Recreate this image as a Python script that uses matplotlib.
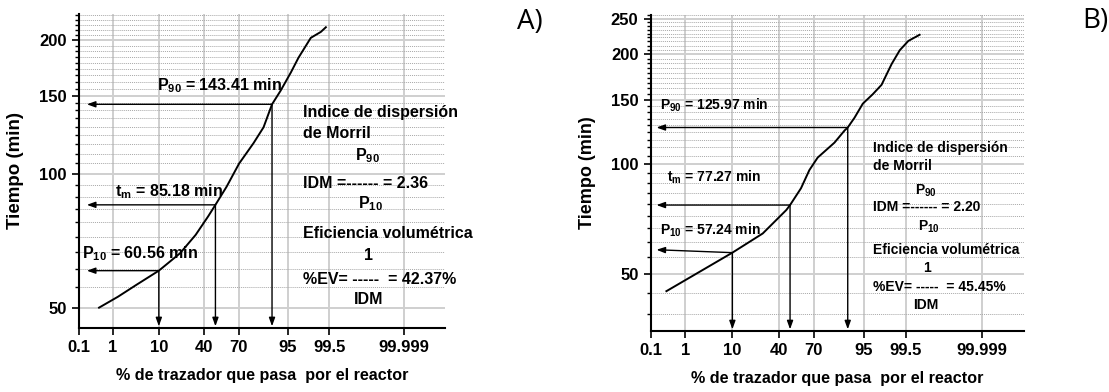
import math
import numpy as np
import matplotlib
matplotlib.use("Agg")
import matplotlib.pyplot as plt
from matplotlib.ticker import NullLocator, NullFormatter, FixedLocator

plt.rcParams['font.family'] = ['Liberation Sans', 'DejaVu Sans']
plt.rcParams['font.weight'] = 'bold'
plt.rcParams['mathtext.fontset'] = 'custom'
plt.rcParams['mathtext.rm'] = 'Liberation Sans:bold'
plt.rcParams['mathtext.it'] = 'Liberation Sans:bold'
plt.rcParams['mathtext.bf'] = 'Liberation Sans:bold'

# curva acumulada A: % de trazador vs tiempo (min)
pct_a = [0.42, 1.36, 3.7, 10, 21.2, 32.7, 43.4, 50, 60, 70.4, 80.6, 86.2,
         90, 93.0, 95.6, 97.0, 98.46, 99.15, 99.38]
t_a = [50.0, 52.9, 56.3, 60.56, 66.3, 72.9, 80.2, 85.18, 93.6, 105.5, 117.3, 127.3,
       143.41, 153.9, 169.0, 182.6, 202.4, 208.7, 213.8]

# curva acumulada B
pct_b = [0.30, 10, 27.2, 46.7, 50, 59.6, 66.6, 73, 83.8, 88.7, 90, 92.4,
         94.7, 96.7, 97.9, 98.8, 99.26, 99.57, 99.80]
t_b = [44.9, 57.24, 64.6, 74.9, 77.27, 85.9, 96.3, 104.2, 114.5, 123.6, 125.97, 134.0,
       146.4, 155.4, 164.9, 188.0, 205.0, 217.4, 226.0]

# percentiles P10, tm, P90
p10_a, tm_a, p90_a = 60.56, 85.18, 143.41
p10_b, tm_b, p90_b = 57.24, 77.27, 125.97
idm_a, ev_a = 2.36, 42.37
idm_b, ev_b = 2.20, 45.45

xticks = [0.1, 1, 10, 40, 70, 95, 99.5, 99.999]
xticklabels = ['0.1', '1', '10', '40', '70', '95', '99.5', '99.999']
yticks_a = [50, 100, 150, 200]
yticks_b = [50, 100, 150, 200, 250]


# escala de probabilidad normal (Acklam)
A_ = [-3.969683028665376e+01, 2.209460984245205e+02, -2.759285104469687e+02,
      1.383577518672690e+02, -3.066479806614716e+01, 2.506628277459239e+00]
B_ = [-5.447609879822406e+01, 1.615858368580409e+02, -1.556989798598866e+02,
      6.680131188771972e+01, -1.328068155288572e+01]
C_ = [-7.784894002430293e-03, -3.223964580411365e-01, -2.400758277161838e+00,
      -2.549732539343734e+00, 4.374664141464968e+00, 2.938163982698783e+00]
D_ = [7.784695709041462e-03, 3.224671290700398e-01, 2.445134137142996e+00,
      3.754408661907416e+00]


def _tail(q):
    num = ((((C_[0]*q + C_[1])*q + C_[2])*q + C_[3])*q + C_[4])*q + C_[5]
    den = (((D_[0]*q + D_[1])*q + D_[2])*q + D_[3])*q + 1
    return num / den


def prob_fwd(pct):
    p = np.clip(np.asarray(pct, dtype=float) / 100.0, 1e-12, 1 - 1e-12)
    z = np.empty_like(p)
    lo = p < 0.02425
    hi = p > 1 - 0.02425
    mid = ~(lo | hi)
    q = p[mid] - 0.5
    r = q * q
    z[mid] = (((((A_[0]*r + A_[1])*r + A_[2])*r + A_[3])*r + A_[4])*r + A_[5])*q / \
             (((((B_[0]*r + B_[1])*r + B_[2])*r + B_[3])*r + B_[4])*r + 1)
    z[lo] = _tail(np.sqrt(-2 * np.log(p[lo])))
    z[hi] = -_tail(np.sqrt(-2 * np.log(1 - p[hi])))
    return z


_erf = np.vectorize(math.erf)


def prob_inv(z):
    z = np.asarray(z, dtype=float)
    return 50.0 * (1 + _erf(z / math.sqrt(2)))


def minor_ticks(lo, hi):
    out = []
    for base in range(0, 300, 50):
        for k in range(1, 9):
            v = base + k * 50 / 9
            if lo < v < hi:
                out.append(v)
    return out


def setup(ax, yticks, ylim, xlim, ylabel_size):
    ax.set_xscale('function', functions=(prob_fwd, prob_inv))
    ax.set_yscale('log')
    ax.set_xlim(*xlim)
    ax.set_ylim(*ylim)
    ax.xaxis.set_major_locator(FixedLocator(xticks))
    ax.set_xticklabels(xticklabels)
    ax.xaxis.set_minor_locator(NullLocator())
    ax.yaxis.set_major_locator(FixedLocator(yticks))
    ax.set_yticklabels([str(v) for v in yticks])
    ax.yaxis.set_minor_locator(FixedLocator(minor_ticks(*ylim)))
    ax.yaxis.set_minor_formatter(NullFormatter())
    ax.set_axisbelow(True)
    ax.grid(True, which='major', color='#cfcfcf', lw=1.4)
    ax.grid(True, which='minor', axis='y', color='#a8a8a8', ls=(0, (1, 1)), lw=0.7)
    for s in ['top', 'right']:
        ax.spines[s].set_visible(False)
    for s in ['left', 'bottom']:
        ax.spines[s].set_linewidth(1.5)
    ax.tick_params(which='major', direction='out', length=5, width=1.2,
                   labelsize=12, pad=4)
    ax.tick_params(which='minor', direction='out', length=3, width=1)
    ax.set_ylabel('Tiempo (min)', fontsize=ylabel_size, fontweight='bold', labelpad=11)
    ax.set_xlabel('% de trazador que pasa  por el reactor', fontsize=11.6,
                  fontweight='bold', labelpad=9)


def arrow(ax, start, tip):
    ax.annotate('', xy=tip, xytext=start,
                arrowprops=dict(arrowstyle='-|>,head_length=0.5,head_width=0.18',
                                color='black', lw=1, shrinkA=0, shrinkB=0))


fig = plt.figure(figsize=(11.09, 3.92), dpi=100)
ax1 = fig.add_axes([0.0712, 0.1633, 0.3301, 0.8010])
ax2 = fig.add_axes([0.5870, 0.1564, 0.3364, 0.8053])

# panel A
setup(ax1, yticks_a, (45, 229), (0.1, 99.99999), 13.5)
ax1.plot(pct_a, t_a, color='black', lw=1.4)
for pct, t in [(10, p10_a), (50, tm_a), (90, p90_a)]:
    arrow(ax1, (pct, t), (0.18, t))
    arrow(ax1, (pct, t), (pct, 45.4))

fs = 11.5
ax1.text(0.213, 0.771, 'P$_{90}$ = %.2f min' % p90_a, transform=ax1.transAxes,
         fontsize=fs, va='center')
ax1.text(0.098, 0.433, 't$_{m}$ = %.2f min' % tm_a, transform=ax1.transAxes,
         fontsize=fs, va='center')
ax1.text(0.008, 0.236, 'P$_{10}$ = %.2f min' % p10_a, transform=ax1.transAxes,
         fontsize=fs, va='center')
ax1.text(0.612, 0.685, 'Indice de dispersión', transform=ax1.transAxes, fontsize=fs, va='center')
ax1.text(0.612, 0.618, 'de Morril', transform=ax1.transAxes, fontsize=fs, va='center')
ax1.text(0.754, 0.548, 'P$_{90}$', transform=ax1.transAxes, fontsize=fs, va='center')
ax1.text(0.612, 0.460, 'IDM =------ = %.2f' % idm_a, transform=ax1.transAxes, fontsize=fs, va='center')
ax1.text(0.762, 0.395, 'P$_{10}$', transform=ax1.transAxes, fontsize=fs, va='center')
ax1.text(0.845, 0.301, 'Eficiencia volumétrica', transform=ax1.transAxes, fontsize=fs,
         va='center', ha='center')
ax1.text(0.791, 0.232, '1', transform=ax1.transAxes, fontsize=fs, va='center', ha='center')
ax1.text(0.612, 0.156, '%%EV= -----  = %.2f%%' % ev_a, transform=ax1.transAxes,
         fontsize=fs, va='center')
ax1.text(0.790, 0.092, 'IDM', transform=ax1.transAxes, fontsize=fs, va='center', ha='center')

# panel B
setup(ax2, yticks_b, (35, 256), (0.1, 99.99999), 13)
ax2.plot(pct_b, t_b, color='black', lw=1.4)
arrow(ax2, (10, p10_b), (0.15, 58.3))
arrow(ax2, (10, p10_b), (10, 35.3))
for pct, t in [(50, tm_b), (90, p90_b)]:
    arrow(ax2, (pct, t), (0.15, t))
    arrow(ax2, (pct, t), (pct, 35.3))

fs2 = 10
ax2.text(0.024, 0.715, 'P$_{90}$ = %.2f min' % p90_b, transform=ax2.transAxes,
         fontsize=fs2, va='center')
ax2.text(0.043, 0.486, 't$_{m}$ = %.2f min' % tm_b, transform=ax2.transAxes,
         fontsize=fs2, va='center')
ax2.text(0.024, 0.319, 'P$_{10}$ = %.2f min' % p10_b, transform=ax2.transAxes,
         fontsize=fs2, va='center')
ax2.text(0.595, 0.579, 'Indice de dispersión', transform=ax2.transAxes, fontsize=fs2, va='center')
ax2.text(0.595, 0.522, 'de Morril', transform=ax2.transAxes, fontsize=fs2, va='center')
ax2.text(0.708, 0.443, 'P$_{90}$', transform=ax2.transAxes, fontsize=fs2, va='center')
ax2.text(0.595, 0.392, 'IDM =------ = %.2f' % idm_b, transform=ax2.transAxes, fontsize=fs2, va='center')
ax2.text(0.716, 0.328, 'P$_{10}$', transform=ax2.transAxes, fontsize=fs2, va='center')
ax2.text(0.595, 0.256, 'Eficiencia volumétrica', transform=ax2.transAxes, fontsize=fs2, va='center')
ax2.text(0.740, 0.199, '1', transform=ax2.transAxes, fontsize=fs2, va='center', ha='center')
ax2.text(0.595, 0.139, '%%EV= -----  = %.2f%%' % ev_b, transform=ax2.transAxes,
         fontsize=fs2, va='center')
ax2.text(0.737, 0.082, 'IDM', transform=ax2.transAxes, fontsize=fs2, va='center', ha='center')

fig.text(0.466, 0.943, 'A)', fontsize=20, fontweight='normal', family='Open Sans', va='center')
fig.text(0.9756, 0.946, 'B)', fontsize=20, fontweight='normal', family='Open Sans', va='center')

fig.savefig('out.png', dpi=100)
